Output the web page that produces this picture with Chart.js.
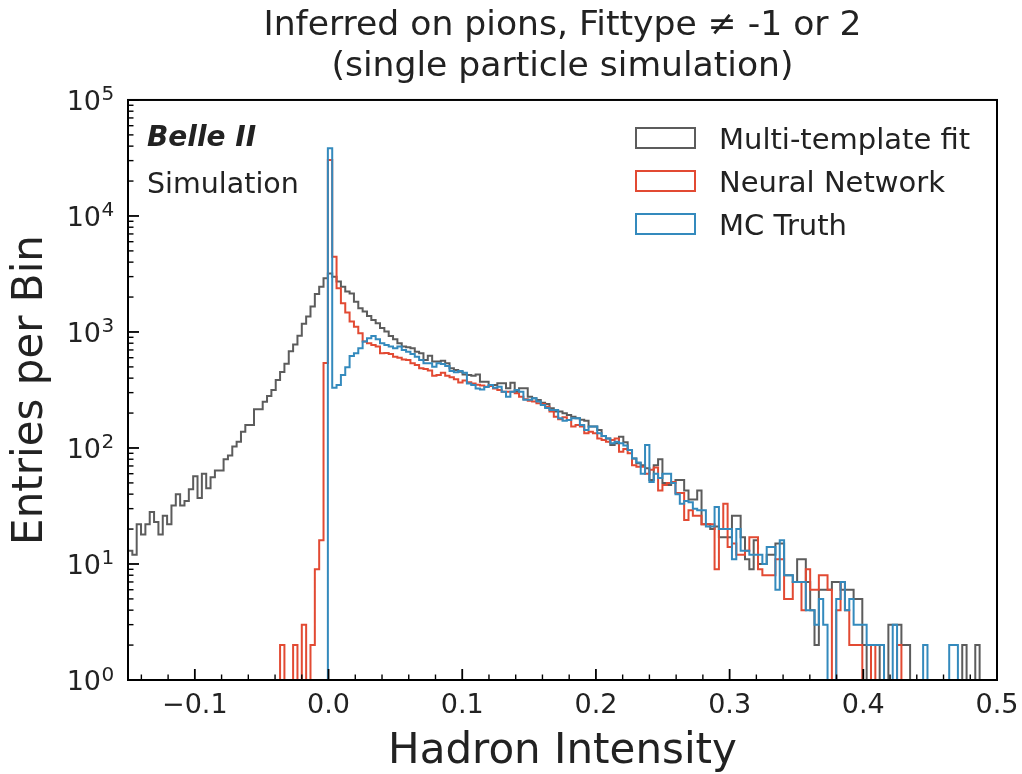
<!DOCTYPE html>
<html>
<head>
<meta charset="utf-8">
<script src="https://cdn.jsdelivr.net/npm/chart.js@4.4.1/dist/chart.umd.min.js"></script>
<style>
  html, body { margin: 0; padding: 0; background: #ffffff; }
  #wrap { width: 1022px; height: 774px; }
</style>
</head>
<body>
<div id="wrap"><canvas id="c" width="1022" height="774"></canvas></div>
<script>
// ---- histogram definition (range and binning) ----
const X_MIN = -0.15;
const X_MAX = 0.5;
const N_BINS = 200;

// ---- tick labels ----
const X_TICKS = [-0.1, 0.0, 0.1, 0.2, 0.3, 0.4, 0.5];
const Y_DECADES = [0, 1, 2, 3, 4, 5];

// ---- series: entries per bin ----
const multiTemplateFit = [
  13, 12, 22, 18, 22, 28, 23, 18, 26, 22,
  32, 40, 32, 35, 44, 57, 37, 60, 45, 56,
  64, 64, 80, 86, 103, 113, 138, 158, 158, 216,
  216, 250, 281, 316, 385, 451, 532, 683, 779, 930,
  1180, 1360, 1660, 2120, 2460, 2900, 3200, 3000, 2720, 2460,
  2230, 2150, 1820, 1600, 1500, 1370, 1270, 1190, 1080, 1010,
  924, 865, 799, 748, 738, 723, 677, 655, 573, 625,
  557, 557, 565, 537, 486, 470, 455, 430, 426, 420,
  430, 373, 373, 349, 349, 361, 361, 327, 365, 306,
  327, 327, 277, 268, 259, 246, 240, 220, 206, 206,
  199, 192, 186, 180, 175, 172, 153, 153, 143, 127,
  121, 106, 110, 125, 112, 96, 81, 74, 71, 67,
  53, 71, 80, 50, 48, 50, 53, 53, 43, 36,
  36, 43, 22, 22, 20, 21, 17, 17, 17, 26,
  26, 17, 11, 9, 16, 10, 10, 12, 12, 15,
  15, 8, 8, 7, 11, 11, 7, 4, 2, 6,
  6, 6, 7, 7, 6, 6, 6, 5, 5, 2,
  1, 2, 2, 1, 1, 3, 3, 3, 2, 2,
  0, 0, 0, 0, 0, 0, 0, 0, 0, 0,
  0, 0, 2, 0, 0, 2, 0, 0, 0, 0
];

const neuralNetwork = [
  0, 0, 0, 0, 0, 0, 0, 0, 0, 0,
  0, 0, 0, 0, 0, 0, 0, 0, 0, 0,
  0, 0, 0, 0, 0, 0, 0, 0, 0, 0,
  0, 0, 0, 0, 0, 2, 0, 0, 2, 0,
  3, 0, 2, 9, 16, 540, 30400, 4460, 2380, 1770,
  1470, 1230, 1110, 975, 826, 799, 773, 748, 655, 660,
  645, 612, 600, 580, 573, 537, 520, 486, 480, 465,
  420, 426, 445, 420, 408, 392, 367, 381, 369, 360,
  350, 345, 338, 342, 326, 316, 306, 306, 306, 296,
  277, 263, 256, 251, 243, 240, 227, 206, 186, 177,
  184, 174, 153, 158, 153, 134, 138, 134, 121, 117,
  113, 117, 121, 93, 98, 90, 71, 69, 69, 60,
  65, 68, 43, 48, 50, 51, 41, 41, 24, 29,
  26, 26, 22, 22, 22, 9, 20, 33, 14, 15,
  12, 12, 13, 17, 17, 9, 8, 8, 8, 11,
  11, 5, 5, 7, 7, 4, 9, 6, 6, 8,
  8, 6, 0, 4, 7, 4, 2, 2, 2, 0,
  0, 2, 1, 0, 0, 0, 0, 2, 0, 0,
  0, 0, 0, 0, 0, 0, 0, 0, 0, 0,
  0, 0, 0, 0, 0, 0, 0, 0, 0, 0
];

const mcTruth = [
  0, 0, 0, 0, 0, 0, 0, 0, 0, 0,
  0, 0, 0, 0, 0, 0, 0, 0, 0, 0,
  0, 0, 0, 0, 0, 0, 0, 0, 0, 0,
  0, 0, 0, 0, 0, 0, 0, 0, 0, 0,
  0, 0, 0, 0, 0, 0, 38400, 331, 349, 426,
  496, 621, 655, 723, 826, 883, 924, 865, 799, 773,
  748, 723, 748, 700, 677, 645, 612, 573, 537, 537,
  502, 537, 530, 510, 460, 450, 460, 445, 360, 349,
  326, 320, 335, 349, 330, 338, 306, 277, 306, 316,
  306, 260, 260, 268, 251, 235, 221, 213, 213, 180,
  172, 174, 180, 180, 158, 143, 153, 153, 134, 127,
  121, 110, 113, 110, 105, 96, 81, 75, 60, 106,
  51, 60, 55, 60, 60, 50, 40, 33, 35, 34,
  30, 29, 29, 21, 21, 31, 20, 20, 20, 11,
  20, 13, 13, 12, 12, 12, 10, 14, 14, 6,
  16, 8, 8, 7, 7, 7, 4, 4, 3, 5,
  3, 1, 1, 5, 7, 4, 5, 3, 3, 3,
  2, 2, 2, 2, 1, 1, 3, 1, 0, 0,
  0, 0, 0, 2, 0, 0, 0, 0, 0, 2,
  2, 0, 0, 0, 0, 0, 0, 0, 0, 0
];

const SERIES_NAMES = ['Multi-template fit', 'Neural Network', 'MC Truth'];
const SERIES_COLORS = ['#5c5c5c', '#E24A33', '#348ABD'];

// ---- build step outlines (histtype="step") from bin edges ----
const BIN_W = (X_MAX - X_MIN) / N_BINS;
const BELOW_AXIS = 0.1; // empty bins drop below the log axis (clipped)
function stepOutline(counts) {
  const pts = [{ x: X_MIN, y: BELOW_AXIS }];
  counts.forEach((c, i) => pts.push({ x: X_MIN + i * BIN_W, y: c > 0 ? c : BELOW_AXIS }));
  const last = counts[counts.length - 1];
  pts.push({ x: X_MAX, y: last > 0 ? last : BELOW_AXIS });
  pts.push({ x: X_MAX, y: BELOW_AXIS });
  return pts;
}

const FONT = '"DejaVu Sans", "Liberation Sans", sans-serif';
const TEXT = '#222222';
Chart.defaults.font.family = FONT;
Chart.defaults.color = TEXT;

// ---- decorations: frame, inward ticks, log tick labels, legend, text ----
const decor = {
  id: 'decor',
  afterDatasetsDraw(chart) {
    const { ctx, chartArea: a, scales: { x, y } } = chart;
    ctx.save();
    // inward ticks
    ctx.strokeStyle = '#000';
    ctx.lineCap = 'butt';
    const tick = (x1, y1, x2, y2, w) => { ctx.lineWidth = w; ctx.beginPath(); ctx.moveTo(x1, y1); ctx.lineTo(x2, y2); ctx.stroke(); };
    for (let j = -7; j <= 25; j++) {
      const v = j * 0.02;
      const px = x.getPixelForValue(v);
      if (j % 5 === 0) tick(px, a.bottom, px, a.bottom - 11, 1.8);
      else tick(px, a.bottom, px, a.bottom - 5.5, 1.4);
    }
    Y_DECADES.forEach(k => {
      const py = y.getPixelForValue(Math.pow(10, k));
      tick(a.left, py, a.left + 11, py, 1.8);
      if (k < 5) {
        for (let m = 2; m <= 9; m++) {
          const pm = y.getPixelForValue(m * Math.pow(10, k));
          tick(a.left, pm, a.left + 5.5, pm, 1.4);
        }
      }
    });
    // frame
    ctx.lineWidth = 2;
    ctx.strokeRect(a.left, a.top, a.right - a.left, a.bottom - a.top);

    // y tick labels 10^k
    ctx.fillStyle = TEXT;
    ctx.textBaseline = 'alphabetic';
    Y_DECADES.forEach(k => {
      const py = y.getPixelForValue(Math.pow(10, k));
      ctx.font = '27px ' + FONT;
      ctx.textAlign = 'right';
      ctx.fillText('10', a.left - 27, py + 9.8);
      ctx.font = '20px ' + FONT;
      ctx.textAlign = 'left';
      ctx.fillText(String(k), a.left - 26.5, py + 0.5);
    });

    // Belle II / Simulation
    ctx.textAlign = 'left';
    ctx.font = 'italic bold 28px ' + FONT;
    ctx.fillText('Belle II', a.left + 19, 146);
    ctx.font = '28.5px ' + FONT;
    ctx.fillText('Simulation', a.left + 19, 193);

    // legend
    const rowY = [138, 181, 224];
    SERIES_NAMES.forEach((name, i) => {
      ctx.strokeStyle = SERIES_COLORS[i];
      ctx.lineWidth = 2;
      ctx.strokeRect(636, rowY[i] - 10, 59, 20);
      ctx.fillStyle = TEXT;
      ctx.font = '29px ' + FONT;
      ctx.fillText(name, 719, rowY[i] + 10.6);
    });
    ctx.restore();
  }
};

const datasets = [multiTemplateFit, neuralNetwork, mcTruth].map((counts, i) => ({
  label: SERIES_NAMES[i],
  data: stepOutline(counts),
  borderColor: SERIES_COLORS[i],
  backgroundColor: SERIES_COLORS[i],
  borderWidth: 2,
  pointRadius: 0,
  pointHoverRadius: 0,
  fill: false,
  stepped: 'before',
  tension: 0,
  borderJoinStyle: 'miter',
  order: 3 - i
}));

new Chart(document.getElementById('c'), {
  type: 'line',
  data: { datasets },
  plugins: [decor],
  options: {
    responsive: false,
    animation: false,
    devicePixelRatio: 1,
    layout: { padding: { left: 0, right: 25, top: 0, bottom: 0 } },
    plugins: {
      legend: { display: false },
      tooltip: { enabled: false },
      title: {
        display: true,
        fullSize: false,
        text: ['Inferred on pions, Fittype \u2260 -1 or 2', '(single particle simulation)'],
        font: { size: 34.6, weight: 'normal', lineHeight: 1.17 },
        color: TEXT,
        padding: { top: 6, bottom: 13 }
      }
    },
    scales: {
      x: {
        type: 'linear',
        min: X_MIN,
        max: X_MAX,
        grid: { display: false, drawTicks: false },
        border: { display: false },
        afterBuildTicks: (s) => { s.ticks = X_TICKS.map(v => ({ value: v })); },
        afterFit: (s) => { s.height = 94; s.paddingLeft = 0; s.paddingRight = 0; },
        ticks: {
          autoSkip: false,
          maxRotation: 0,
          padding: 10,
          color: TEXT,
          font: { size: 27 },
          callback: (v) => (v < -1e-9 ? '\u2212' : '') + Math.abs(v).toFixed(1)
        },
        title: {
          display: true,
          text: 'Hadron Intensity',
          color: TEXT,
          font: { size: 42, lineHeight: 1.0 },
          padding: { top: 0, bottom: 1 }
        }
      },
      y: {
        type: 'logarithmic',
        min: 1,
        max: 100000,
        grid: { display: false, drawTicks: false },
        border: { display: false },
        ticks: { display: false },
        afterFit: (s) => { s.width = 128; s.paddingTop = 0; s.paddingBottom = 0; },
        title: {
          display: true,
          text: 'Entries per Bin',
          color: TEXT,
          font: { size: 42, lineHeight: 1.0 },
          padding: { top: 10, bottom: 0 }
        }
      }
    }
  }
});
</script>
</body>
</html>
